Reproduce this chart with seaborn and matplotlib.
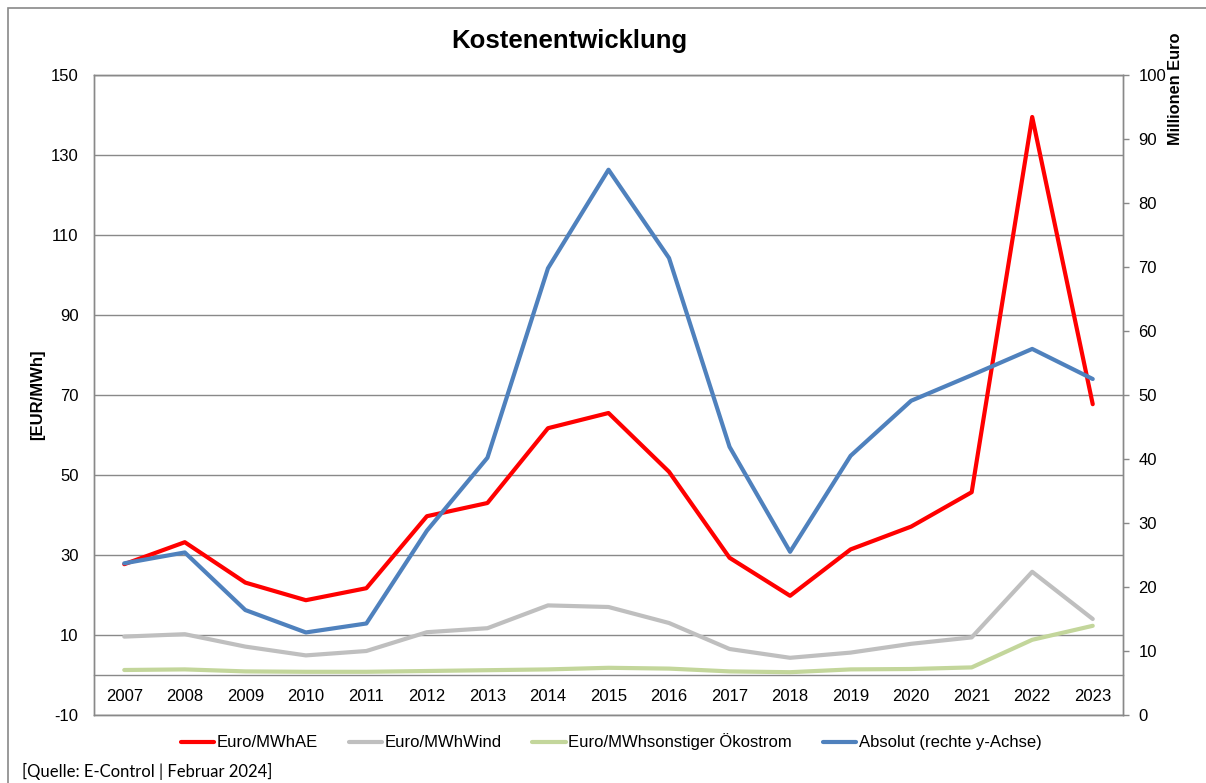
import numpy as np
import pandas as pd
import seaborn as sns
import matplotlib.pyplot as plt
from matplotlib.patches import Rectangle

# data
years = list(range(2007, 2024))
euro_ae = [27.7, 33.2, 23.1, 18.7, 21.7, 39.7, 43.0, 61.7, 65.5, 50.8,
           29.3, 19.8, 31.4, 37.1, 45.7, 139.5, 67.7]
euro_wind = [9.6, 10.2, 7.1, 4.9, 6.0, 10.7, 11.7, 17.4, 17.0, 13.0,
             6.5, 4.3, 5.6, 7.8, 9.4, 25.8, 14.0]
euro_sonst = [1.25, 1.4, 0.9, 0.8, 0.8, 1.0, 1.2, 1.4, 1.8, 1.6,
              0.9, 0.7, 1.4, 1.5, 1.9, 8.8, 12.3]
absolut = [23.7, 25.4, 16.4, 12.9, 14.3, 28.8, 40.2, 69.8, 85.2, 71.4,
           41.9, 25.5, 40.5, 49.1, 53.1, 57.2, 52.5]

labels = ['Euro/MWhAE', 'Euro/MWhWind', 'Euro/MWhsonstiger Ökostrom',
          'Absolut (rechte y-Achse)']
colors = ['#FF0000', '#BFBFBF', '#C3D69B', '#4F81BD']

df = pd.DataFrame({'Jahr': years, labels[0]: euro_ae, labels[1]: euro_wind,
                   labels[2]: euro_sonst, labels[3]: absolut})

sns.set_style('white')
plt.rcParams['font.family'] = ['Liberation Sans', 'DejaVu Sans']
plt.rcParams['axes.unicode_minus'] = False
for k in ['text.color', 'axes.labelcolor', 'xtick.labelcolor', 'ytick.labelcolor']:
    plt.rcParams[k] = 'black'

fig = plt.figure(figsize=(12.06, 7.83), dpi=100)
W, H = 1206, 783
ax = fig.add_axes([94 / W, 1 - 715 / H, (1123 - 94) / W, (715 - 75) / H])
ax2 = ax.twinx()

grid_c = '#898989'

# left axis series
for lab, col in zip(labels[:3], colors[:3]):
    sns.lineplot(data=df, x='Jahr', y=lab, ax=ax, color=col, linewidth=3.0,
                 label=lab, legend=False)
# right axis series
sns.lineplot(data=df, x='Jahr', y=labels[3], ax=ax2, color=colors[3],
             linewidth=3.0, label=labels[3], legend=False)

ax.set_xlim(2006.5, 2023.5)
ax.set_ylim(-10, 150)
ax.set_yticks(range(-10, 151, 20))
ax.yaxis.grid(True, color=grid_c, linewidth=1.0)
ax.set_xticks([])
ax.set_xlabel('')
ax.set_ylabel('[EUR/MWh]', fontsize=12, fontweight='bold', labelpad=4)
ax.tick_params(axis='y', length=0, pad=11, labelsize=12)

ax2.set_ylim(0, 100)
ax2.set_yticks(range(0, 101, 10))
ax2.set_ylabel('')
ax2.tick_params(axis='y', length=4, width=1, color=grid_c, pad=7,
                labelsize=12, direction='out')

for a in (ax, ax2):
    for s in a.spines.values():
        s.set_color(grid_c)
        s.set_linewidth(1.0)

# category axis sitting on the zero line
sec = ax.secondary_xaxis(10 / 160)
sec.set_xticks(years)
sec.set_xticklabels([str(y) for y in years])
sec.tick_params(length=0, pad=10, labelsize=12)
sec.spines['bottom'].set_color(grid_c)
sec.spines['bottom'].set_linewidth(1.0)

fig.text(569 / W, 1 - 48 / H, 'Kostenentwicklung', ha='center', va='baseline',
         fontsize=18.5, fontweight='bold')
fig.text(1175 / W, 1 - 89 / H, 'Millionen Euro', ha='center', va='center',
         rotation=90, fontsize=11.8, fontweight='bold')

h1, l1 = ax.get_legend_handles_labels()
h2, l2 = ax2.get_legend_handles_labels()
fig.legend(h1 + h2, l1 + l2, loc='center', ncol=4, frameon=False,
           bbox_to_anchor=(611 / W, 1 - 742 / H), fontsize=12,
           handlelength=2.0, handletextpad=0.15, columnspacing=1.85)

fig.text(22 / W, 1 - 771 / H, '[Quelle: E-Control | Februar 2024]',
         ha='left', va='center', fontsize=12, family=['Lato', 'DejaVu Sans'])

# outer chart border (right/bottom edges fall outside the image)
fig.patches.append(Rectangle((8 / W, -0.1), 1.2, 1 - 8 / H + 0.1,
                             transform=fig.transFigure, fill=False,
                             edgecolor=grid_c, linewidth=1.2))

fig.savefig('out.png', dpi=100)
